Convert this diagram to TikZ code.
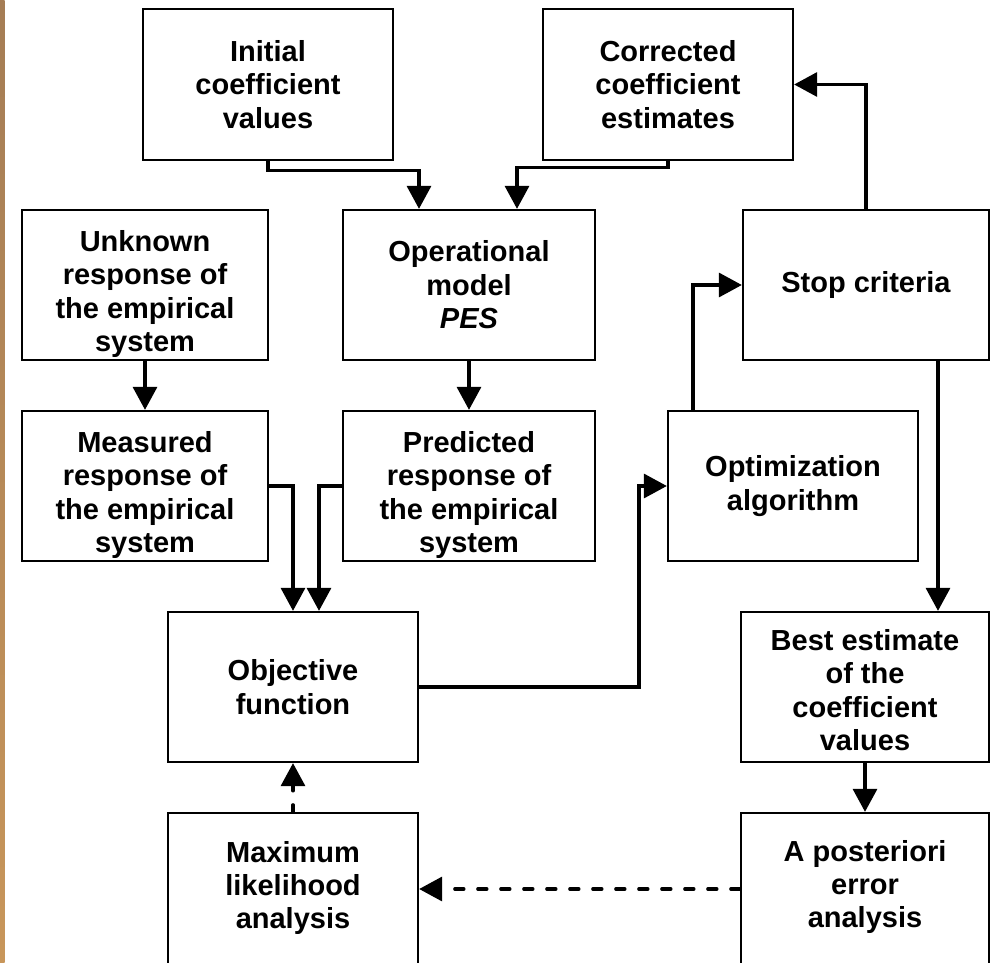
\documentclass[tikz,border=0pt]{standalone}
\usepackage{fontspec}
\setmainfont{Liberation Sans}
\usetikzlibrary{arrows.meta}
\begin{document}
\begin{tikzpicture}[x=1pt,y=-1pt,
  box/.style={draw=black,line width=2.3pt,fill=white,align=center,inner sep=0pt,
    font=\fontsize{29}{33.4}\selectfont\bfseries},
  txt/.style={align=center,inner sep=0pt,font=\fontsize{29}{33.4}\selectfont\bfseries},
  conn/.style={line width=3.3pt,-{Triangle[length=23pt,width=24pt]}},
  dconn/.style={conn,line cap=round,dash pattern=on 9pt off 14pt}]
\useasboundingbox (0,0) rectangle (990,963);
\shade[top color={rgb,255:red,165;green,125;blue,85},middle color={rgb,255:red,115;green,80;blue,40},bottom color={rgb,255:red,200;green,150;blue,90}] (0,0) rectangle (4.5,963);
% boxes
\node[box,minimum width=250pt,minimum height=151pt] (init) at (268,84.5) {Initial\\coefficient\\values};
\node[box,minimum width=250pt,minimum height=151pt] (corr) at (668,84.5) {Corrected\\coefficient\\estimates};
\node[box,minimum width=246pt,minimum height=150pt] (unk) at (145,285) {};
\node[txt] (unkt) at (145,294) {Unknown\\response of\\the empirical\\system};
\node[box,minimum width=252pt,minimum height=150pt] (oper) at (469,285) {Operational\\model\\\textit{PES}};
\node[box,minimum width=246pt,minimum height=150pt] (stop) at (866,285) {Stop criteria};
\node[box,minimum width=246pt,minimum height=150pt] (meas) at (145,486) {};
\node[txt] (meast) at (145,495) {Measured\\response of\\the empirical\\system};
\node[box,minimum width=252pt,minimum height=150pt] (pred) at (469,486) {};
\node[txt] (predt) at (469,495) {Predicted\\response of\\the empirical\\system};
\node[box,minimum width=250pt,minimum height=150pt] (opt) at (793,486) {Optimization\\algorithm};
\node[box,minimum width=250pt,minimum height=150pt] (obj) at (293,687) {Objective\\function};
\node[box,minimum width=248pt,minimum height=150pt] (best) at (865,687) {};
\node[txt] (bestt) at (865,690) {Best estimate\\of the\\coefficient\\values};
\node[box,minimum width=250pt,minimum height=152pt] (mlh) at (293,889) {};
\node[txt] (mlht) at (293,888) {Maximum\\likelihood\\analysis};
\node[box,minimum width=248pt,minimum height=152pt] (apost) at (865,889) {};
\node[txt] (apostt) at (865,887) {A posteriori\\error\\analysis};
% connectors
\draw[conn] (init.south) -- ++(0,9) -| ([xshift=-50pt]oper.north);
\draw[conn] (corr.south) -- ++(0,6) -| ([xshift=48pt]oper.north);
\draw[conn] (stop.north) |- (corr.east);
\draw[conn] ([xshift=72pt]stop.south) -- ([xshift=72pt]stop.south |- best.north);
\draw[conn] ([xshift=-100pt]opt.north) |- (stop.west);
\draw[conn] (obj.east) -| ([xshift=-28pt]opt.west) -- (opt.west);
\draw[conn] (unk) -- (meas);
\draw[conn] (oper) -- (pred);
\draw[conn] (meas.east) -| (obj.north);
\draw[conn] (pred.west) -| ([xshift=26pt]obj.north);
\draw[conn] (best) -- (apost);
\draw[dconn] (apost.west) -- (mlh.east);
\draw[dconn,dash phase=2pt] (mlh.north) -- (obj.south);
\end{tikzpicture}
\end{document}
